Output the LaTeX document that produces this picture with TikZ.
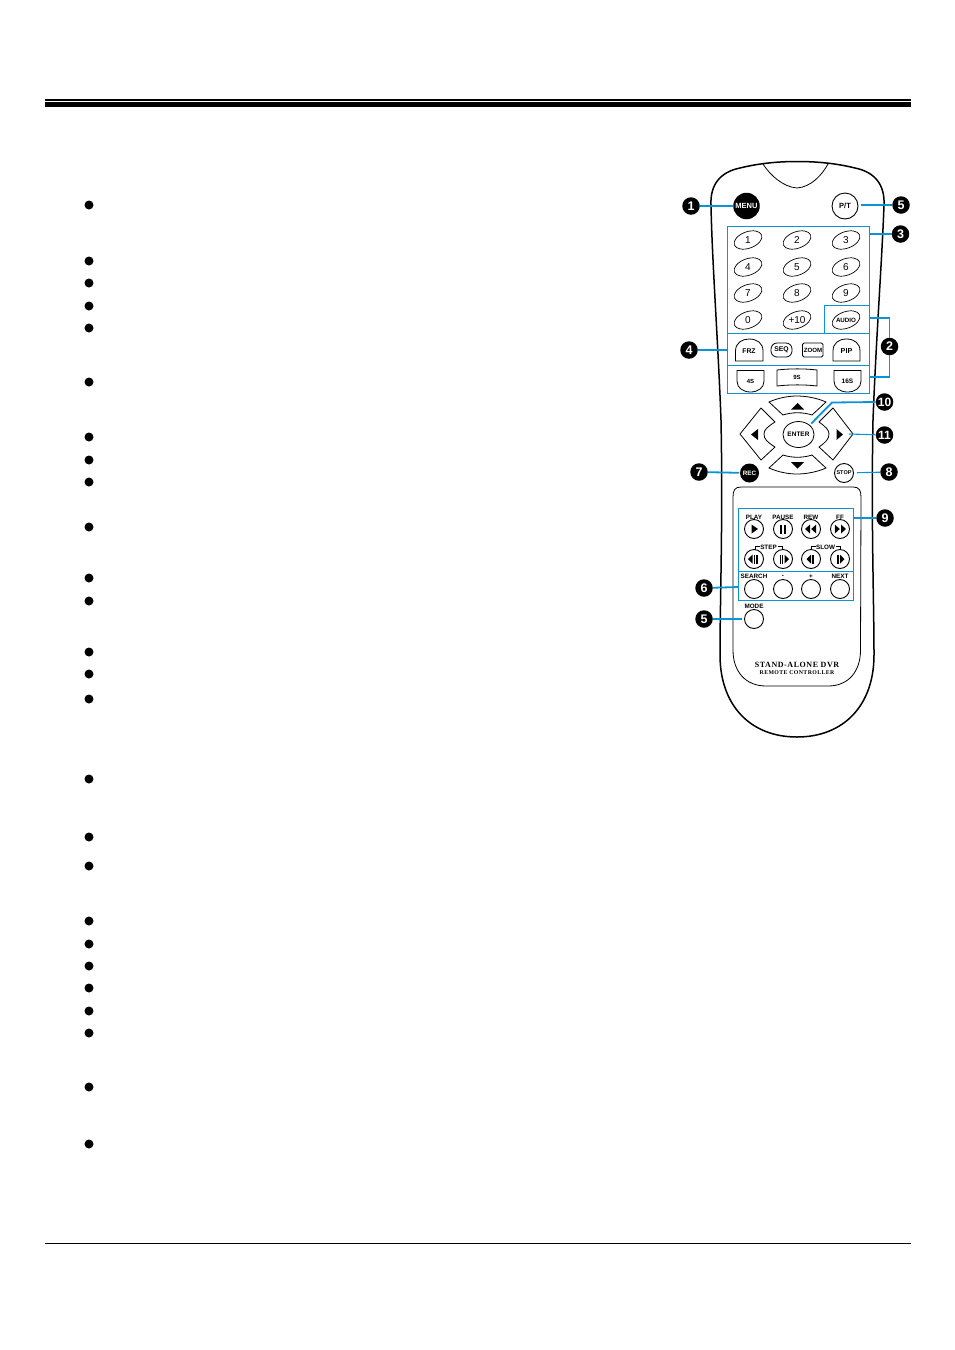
\documentclass[tikz,border=0pt]{standalone}
\usepackage{fontspec}
\setmainfont{Liberation Sans}
\newfontfamily\serifbold[LetterSpace=7]{Liberation Serif}
\usetikzlibrary{shapes.geometric,calc}
\definecolor{leaderblue}{HTML}{0A94D6}
\tikzset{
 x=1pt,y=-1pt,
 badge/.style={circle,fill=black,text=white,inner sep=0pt,minimum size=17.5pt,font=\fontsize{12.5}{12.5}\selectfont\bfseries},
 badgewide/.style={badge,font=\fontsize{12}{12}\selectfont\bfseries},
 leader/.style={draw=leaderblue,line width=1.1pt},
 leaderthick/.style={draw=leaderblue,line width=1.8pt},
 bluebox/.style={draw=leaderblue,line width=0.9pt},
 body/.style={draw=black,line width=1.5pt},
 thin outline/.style={draw=black,line width=0.8pt},
 roundbtn/.style={circle,draw=black,line width=0.9pt,inner sep=0pt,minimum size=19pt},
 darkbtn/.style={circle,fill=black,text=white,inner sep=0pt},
 digit/.style={ellipse,draw=black,line width=0.7pt,inner sep=0pt,minimum width=29pt,minimum height=16.5pt,rotate=20},
 digittext/.style={font=\fontsize{10}{10}\selectfont,inner sep=0pt},
 tiny/.style={font=\fontsize{6.3}{6.3}\selectfont\bfseries,inner sep=0pt},
 dot/.style={circle,fill=black,inner sep=0pt,minimum size=9pt},
}
\begin{document}
\begin{tikzpicture}
\useasboundingbox (0,0) rectangle (954,1350);
% page rules
\fill (45,99) rectangle (911,101.2);
\fill (45,102.2) rectangle (911,107);
\fill (45,1242.8) rectangle (911,1243.6);
% bullets
\foreach \yy [count=\i] in {205,261,283,306,328,382,437,460,482,527,578,601,652,674,699,779,837,866,921,944,966,988,1011,1033,1087,1144}
  \node[dot] (bullet\i) at (89,\yy) {};
% remote body
\draw[body] (797,737) .. controls (750,737) and (720,705) .. (720,655)
  .. controls (720,600) and (723,520) .. (721,420)
  .. controls (718,340) and (712,260) .. (711,205)
  .. controls (710,185) and (720,172) .. (740,168)
  .. controls (760,163) and (780,161.5) .. (797,161.5)
  .. controls (815,161.5) and (835,163) .. (855,168)
  .. controls (875,172) and (885,185) .. (884,205)
  .. controls (882,260) and (876,340) .. (873,420)
  .. controls (871,520) and (874,600) .. (874,655)
  .. controls (874,705) and (844,737) .. (797,737) -- cycle;
\draw[thin outline] (763,164) .. controls (770,175) and (783,187) .. (797,188) .. controls (811,187) and (822,175) .. (828,164);
% lower panel
\draw[thin outline] (733,497) .. controls (733,490) and (735,487) .. (741,487) -- (853,487)
  .. controls (859,487) and (861,490) .. (861,497) -- (860.5,650)
  .. controls (860.5,672) and (848,686) .. (828,686) -- (766,686)
  .. controls (746,686) and (733,672) .. (733,650) -- cycle;
% blue boxes
\draw[bluebox] (727.5,226.5) rectangle (869.5,393);
\draw[bluebox] (727.5,333) -- (869.5,333);
\draw[bluebox] (727.5,365) -- (869.5,365);
\draw[bluebox] (824.5,333) -- (824.5,305.5) -- (869.5,305.5);
\draw[bluebox] (738.5,508.5) rectangle (853.5,600.5);
\draw[bluebox] (738.5,571.5) -- (853.5,571.5);
\coordinate (box3) at (869.5,234);
\coordinate (box2a) at (869.5,318);
\coordinate (box2b) at (869.5,377);
\coordinate (box4) at (727.5,350);
\coordinate (box9) at (853.5,518);
\coordinate (box6) at (738.5,587);
% top buttons
\node[darkbtn,minimum size=26.5pt,font=\fontsize{7.5}{7.5}\selectfont\bfseries] (menu) at (746.5,206) {MENU};
\node[roundbtn,minimum size=26pt,font=\fontsize{7.5}{7.5}\selectfont\bfseries] (pt) at (845,206) {P/T};
% digit keys
\foreach \lab/\xx/\yy [count=\i] in {1/748/240,2/797/240,3/846/240,4/748/267,5/797/267,6/846/267,7/748/293,8/797/293,9/846/293,0/748/320,{+10}/797/320}{
  \node[digit] (key\i) at (\xx,\yy) {};
  \node[digittext] at (key\i) {\lab};
}
\node[digit] (audio) at (846,320) {};
\node[inner sep=0pt,font=\fontsize{6.2}{6.2}\selectfont\bfseries] at (audio) {AUDIO};
% function keys
\draw[thin outline] (735.5,361) -- (735.5,351) .. controls (735.5,343) and (742,339) .. (749,339) .. controls (757,339) and (763,343) .. (763,351) -- (763,361) -- cycle;
\node[tiny,font=\fontsize{6.8}{6.8}\selectfont\bfseries] (frz) at (749,351) {FRZ};
\draw[thin outline,rounded corners=6pt] (771,343) rectangle (792,357);
\node[tiny,font=\fontsize{6.8}{6.8}\selectfont\bfseries] (seq) at (781.5,349.5) {SEQ};
\draw[thin outline,rounded corners=1.5pt] (802.5,343) rectangle (823,357);
\node[tiny,font=\fontsize{6.1}{6.1}\selectfont\bfseries] (zoom) at (813,350) {ZOOM};
\draw[thin outline] (833,361) -- (833,351) .. controls (833,343) and (839,339) .. (846.5,339) .. controls (854,339) and (860,343) .. (860,351) -- (860,361) -- cycle;
\node[tiny,font=\fontsize{7.2}{7.2}\selectfont\bfseries] (pip) at (846.5,351.5) {PIP};
\draw[thin outline] (737,370.5) -- (764,370.5) -- (764,381) .. controls (764,388) and (758,392) .. (750.5,392) .. controls (743,392) and (737,388) .. (737,381) -- cycle;
\node[tiny,font=\fontsize{6}{6}\selectfont\bfseries] (s4) at (750.5,381) {4S};
\draw[thin outline] (777,370) .. controls (790,368.5) and (805,368.5) .. (817,370) -- (817,386) .. controls (805,384.5) and (790,384.5) .. (777,386) -- cycle;
\node[tiny,font=\fontsize{6}{6}\selectfont\bfseries] (s9) at (797,377) {9S};
\draw[thin outline] (834,370.5) -- (861,370.5) -- (861,381) .. controls (861,388) and (855,392) .. (847.5,392) .. controls (840,392) and (834,388) .. (834,381) -- cycle;
\node[tiny,font=\fontsize{6.5}{6.5}\selectfont\bfseries] (s16) at (847.5,381) {16S};
% direction pad
\draw[thin outline] (769,402) .. controls (778,398) and (788,396) .. (797,396) .. controls (806,396) and (817,398) .. (826,402) -- (812,415) .. controls (803,412) and (792,412) .. (783,415) -- cycle;
\draw[thin outline] (769,468) .. controls (778,472) and (788,474) .. (797,474) .. controls (806,474) and (817,472) .. (826,468) -- (812,455) .. controls (803,458) and (792,458) .. (783,455) -- cycle;
\draw[thin outline,line join=round] (740,434) -- (761,408) -- (775,422) .. controls (767,427) and (764,430) .. (764,434) .. controls (764,439) and (767,442) .. (775,447) -- (761,460) -- cycle;
\draw[thin outline,line join=round] (853,434) -- (833,408) -- (819,422) .. controls (826,427) and (829,430) .. (829,434) .. controls (829,439) and (826,442) .. (819,447) -- (833,460) -- cycle;
\fill (791,409.5) -- (804,409.5) -- (797.5,403) -- cycle;
\fill (791,462) -- (804,462) -- (797.5,468.5) -- cycle;
\fill (758,429) -- (758,440) -- (751,434.5) -- cycle;
\fill (836.5,429) -- (836.5,440) -- (843,434.5) -- cycle;
\node[ellipse,draw=black,line width=0.8pt,inner sep=0pt,minimum width=30pt,minimum height=26pt,font=\fontsize{6.5}{6.5}\selectfont\bfseries] (enter) at (798.5,434.5) {ENTER};
\coordinate (rightkey) at (849,434);
% rec / stop
\node[darkbtn,minimum size=19pt,font=\fontsize{6.3}{6.3}\selectfont\bfseries] (rec) at (749.5,473) {REC};
\node[roundbtn,font=\fontsize{5.5}{5.5}\selectfont\bfseries] (stop) at (844,473) {STOP};
% transport buttons
\foreach \nm/\xx/\yy in {play/754/529,pause/783/529,rew/811/529,ff/840/529,stepa/754/559,stepb/783/559,slowa/811/559,slowb/840/559,search/754/589,minus/783/589,plus/811/589,next/840/589,mode/754/619}
  \node[roundbtn] (\nm) at (\xx,\yy) {};
\foreach \lab/\xx/\yy in {PLAY/754/517,PAUSE/783/517,REW/811/517,FF/840/517,SEARCH/754/576.5,-/783/576.5,+/811/576.5,NEXT/840/576.5,MODE/754/606.5}
  \node[tiny] at (\xx,\yy) {\lab};
% play
\fill (play.center)++(-2.5,-4.5) -- ++(6.5,4.5) -- ++(-6.5,4.5) -- cycle;
% pause
\fill ($(pause)+(-2.8,-4.5)$) rectangle ++(2,9);
\fill ($(pause)+(0.8,-4.5)$) rectangle ++(2,9);
% rew
\fill ($(rew)+(-6,0)$) -- ++(5,-4.5) -- ++(0,9) -- cycle;
\fill ($(rew)+(0.2,0)$) -- ++(5,-4.5) -- ++(0,9) -- cycle;
% ff
\fill ($(ff)+(6,0)$) -- ++(-5,-4.5) -- ++(0,9) -- cycle;
\fill ($(ff)+(-0.2,0)$) -- ++(-5,-4.5) -- ++(0,9) -- cycle;
% step back / forward
\fill ($(stepa)+(-6,0)$) -- ++(4.5,-4.5) -- ++(0,9) -- cycle;
\fill ($(stepa)+(-0.3,-4.5)$) rectangle ++(1.2,9);
\fill ($(stepa)+(2.3,-4.5)$) rectangle ++(1.2,9);
\fill ($(stepb)+(-3.5,-4.5)$) rectangle ++(1.2,9);
\fill ($(stepb)+(-0.9,-4.5)$) rectangle ++(1.2,9);
\fill ($(stepb)+(6,0)$) -- ++(-4.5,-4.5) -- ++(0,9) -- cycle;
% slow back / forward
\fill ($(slowa)+(-4.5,0)$) -- ++(4.5,-4.5) -- ++(0,9) -- cycle;
\fill ($(slowa)+(1.3,-4.5)$) rectangle ++(1.4,9);
\fill ($(slowb)+(-2.7,-4.5)$) rectangle ++(1.4,9);
\fill ($(slowb)+(4.5,0)$) -- ++(-4.5,-4.5) -- ++(0,9) -- cycle;
% step / slow labels
\node[tiny] (steplab) at (768.5,547) {STEP};
\node[tiny] (slowlab) at (825.5,547) {SLOW};
\draw[line width=0.6pt] (755,549.5) -- (755,546) -- (759.5,546);
\draw[line width=0.6pt] (777.5,546) -- (782,546) -- (782,549.5);
\draw[line width=0.6pt] (811.5,549.5) -- (811.5,546) -- (815.5,546);
\draw[line width=0.6pt] (835.5,546) -- (840,546) -- (840,549.5);
% brand
\node[inner sep=0pt,font=\serifbold\fontsize{8}{8}\selectfont\bfseries] (brand) at (797,665) {STAND-ALONE DVR};
\node[inner sep=0pt,font=\serifbold\fontsize{5.8}{5.8}\selectfont\bfseries] (brandb) at (797,672.3) {REMOTE CONTROLLER};
% badges
\node[badge] (b1) at (691,206) {1};
\node[badge] (b5a) at (901,205) {5};
\node[badge] (b3) at (900.5,234) {3};
\node[badge] (b2) at (889.5,346.5) {2};
\node[badge] (b4) at (689,350) {4};
\node[badgewide] (b10) at (884.5,402) {10};
\node[badgewide] (b11) at (884.5,435) {11};
\node[badge] (b7) at (699,472) {7};
\node[badge] (b8) at (889,472) {8};
\node[badge] (b9) at (885,518) {9};
\node[badge] (b6) at (704,588) {6};
\node[badge] (b5b) at (704,619) {5};
% leaders
\draw[leader] (b1) -- (menu);
\draw[leaderthick,shorten >=3pt] (b5a) -- (pt.east |- b5a);
\draw[leaderthick] (b3) -- (box3);
\draw[leaderthick] (box2a) -| (b2) |- (box2b);
\draw[leaderthick] (b4) -- (box4);
\draw[leaderthick,shorten >=2pt] (b10.west) -- (832,402.5) -- (enter.north east);
\draw[leader] (b11) -- (rightkey);
\draw[leaderthick,shorten >=1pt] (b7) -- (rec);
\draw[leader,shorten >=3pt] (b8) -- (stop);
\draw[leaderthick] (b9) -- (box9);
\draw[leaderthick] (b6) -- (box6);
\draw[leaderthick,shorten >=2pt] (b5b) -- (mode);
\end{tikzpicture}
\end{document}
